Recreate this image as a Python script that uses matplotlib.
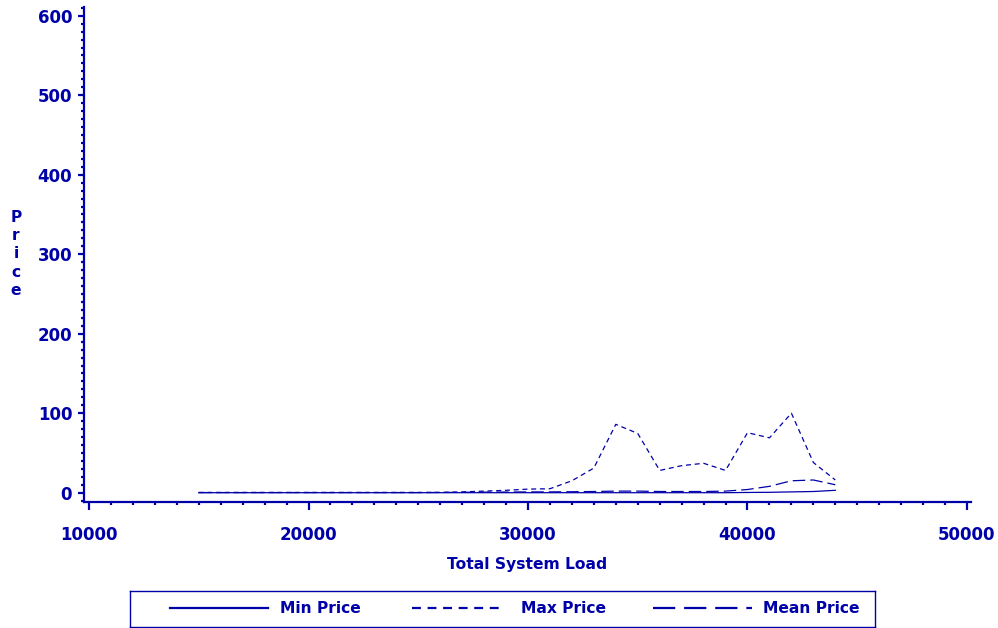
import matplotlib
matplotlib.use("Agg")
import matplotlib.pyplot as plt
from matplotlib.ticker import MultipleLocator
from matplotlib.lines import Line2D

load = [15000, 16000, 17000, 18000, 19000, 20000, 21000, 22000, 23000, 24000,
        25000, 26000, 27000, 28000, 29000, 30000, 31000, 32000, 33000, 34000,
        35000, 36000, 37000, 38000, 39000, 40000, 41000, 42000, 43000, 44000]
min_price = [0, 0, 0, 0, 0, 0, 0, 0, 0, 0,
             0, 0, 0, 0, 0, 0, 0, 0, 0, 0,
             0, 0, 0, 0, 0, 0.3, 0.5, 1, 1.5, 3]
max_price = [0.3, 0.3, 0.3, 0.3, 0.3, 0.3, 0.3, 0.3, 0.3, 0.3,
             0.3, 0.4, 1, 2, 3, 4.5, 5, 15, 31, 86,
             74.5, 28, 34, 37, 28, 75.5, 69, 100, 38, 16]
mean_price = [0.2, 0.2, 0.2, 0.2, 0.2, 0.2, 0.2, 0.2, 0.2, 0.2,
              0.2, 0.3, 0.5, 0.7, 0.8, 1, 1, 1.2, 1.5, 2,
              2, 1.5, 1.5, 1.5, 2, 4, 8, 15, 16, 10]
series_labels = ["Min Price", "Max Price", "Mean Price"]
xticks = [10000, 20000, 30000, 40000, 50000]
yticks = [0, 100, 200, 300, 400, 500, 600]

C = "#0000A8"
plt.rcParams['font.family'] = ['DejaVu Sans']
plt.rcParams['font.weight'] = 'bold'
FS = 12
FT = 11.2

W, H = 998, 628
fig = plt.figure(figsize=(W / 100, H / 100), dpi=100)

# axes box in pixels: left 84, right 971, top 7, bottom 502
x0p, x1p, y0p, y1p = 84, 971, 7, 502
ax = fig.add_axes([x0p / W, 1 - y1p / H, (x1p - x0p) / W, (y1p - y0p) / H])

# data scales: 10000 at px 89, 50000 at px 967 ; 0 at px 492.7, 600 at px 15.7
xs = (967 - 89) / 40000.0
ys = (492.7 - 15.7) / 600.0
ax.set_xlim(10000 - (89 - x0p) / xs, 50000 + (x1p - 967) / xs)
ax.set_ylim(0 - (y1p - 492.7) / ys, 600 + (15.7 - y0p) / ys)

lw = 0.9
ax.plot(load, min_price, color=C, lw=lw, linestyle='-')
ax.plot(load, max_price, color=C, lw=lw, linestyle=(0, (4, 3)))
ax.plot(load, mean_price, color=C, lw=lw, linestyle=(0, (10, 4)))

for s in ['top', 'right']:
    ax.spines[s].set_visible(False)
for s in ['left', 'bottom']:
    ax.spines[s].set_color(C)
    ax.spines[s].set_linewidth(1.6)

ax.set_xticks(xticks)
ax.set_yticks(yticks)
ax.xaxis.set_minor_locator(MultipleLocator(1000))
ax.yaxis.set_minor_locator(MultipleLocator(10))
ax.tick_params(axis='both', which='major', colors=C, direction='out', width=1.6,
               labelsize=FS, labelcolor=C)
ax.tick_params(axis='x', which='major', length=6, pad=11)
ax.tick_params(axis='y', which='major', length=4.5, pad=4)
ax.tick_params(axis='x', which='minor', length=2.5, width=1.6, colors=C)
ax.tick_params(axis='y', which='minor', length=2.2, width=1.6, colors=C)
ax.set_xticklabels([str(v) for v in xticks], fontweight='bold')
ax.set_yticklabels([str(v) for v in yticks], fontweight='bold')

fig.text(527 / W, 1 - 564 / H, "Total System Load", color=C, fontsize=FT,
         ha='center', va='center', fontweight='bold')
fig.text(16 / W, 1 - 254 / H, "P\nr\ni\nc\ne", color=C, fontsize=FT,
         ha='center', va='center', multialignment='center', linespacing=1.27,
         fontweight='bold')

# legend box
lx0, lx1, ly0, ly1 = 130, 875, 591, 627
lax = fig.add_axes([lx0 / W, 1 - ly1 / H, (lx1 - lx0) / W, (ly1 - ly0) / H])
lax.set_xlim(lx0, lx1)
lax.set_ylim(ly1, ly0)
lax.set_xticks([])
lax.set_yticks([])
for s in lax.spines.values():
    s.set_color(C)
    s.set_linewidth(1.0)
styles = ['-', (0, (4, 3)), (0, (10, 4))]
seg = [(170, 268, 280), (412, 505, 521), (653, 752, 763)]
ym = 608
for (a, b, t), st, lab in zip(seg, styles, series_labels):
    lax.add_line(Line2D([a, b], [ym, ym], color=C, lw=1.6, linestyle=st))
    lax.text(t, ym, lab, color=C, fontsize=FT, ha='left', va='center',
             fontweight='bold')

fig.savefig("out.png", dpi=100)
